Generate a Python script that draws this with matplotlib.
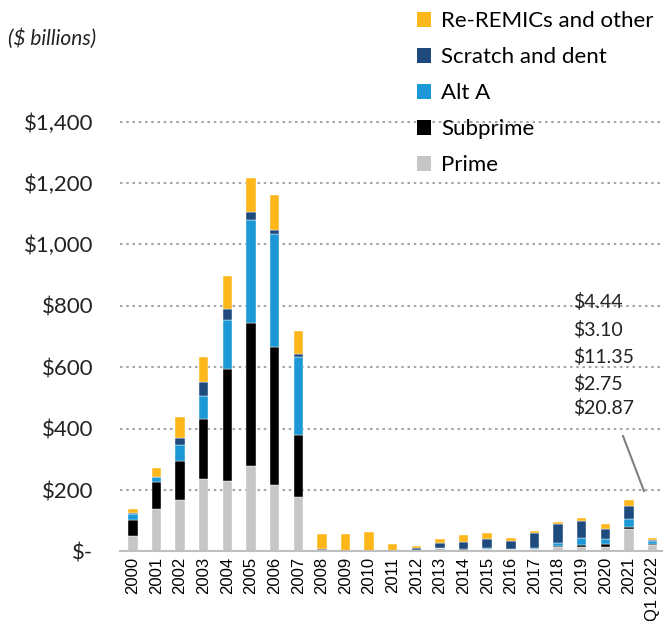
import matplotlib
matplotlib.use("Agg")
import matplotlib.pyplot as plt
from matplotlib.patches import Patch
import numpy as np

plt.rcParams['font.family'] = ['Lato', 'DejaVu Sans']

years = ["2000", "2001", "2002", "2003", "2004", "2005", "2006", "2007", "2008", "2009",
         "2010", "2011", "2012", "2013", "2014", "2015", "2016", "2017", "2018", "2019",
         "2020", "2021", "Q1 2022"]
prime = [51, 139, 169, 236, 231, 279, 216, 178, 2, 3, 1, 1, 2, 10, 6, 9, 7, 8, 15, 13, 14, 72, 20.87]
subprime = [53, 88, 124, 195, 363, 466, 451, 202, 1, 0, 0, 0, 1, 1, 0.5, 0.5, 0.5, 0.5, 4, 9, 10, 6, 2.75]
alt_a = [18, 15, 55, 75, 160, 336, 368, 252, 2, 0, 0, 0, 1, 1, 0.5, 2, 1, 3, 10, 23, 15, 28, 11.35]
scratch = [2, 2, 23, 47, 34, 25, 13, 10, 3, 0, 0, 0, 6, 15, 25, 28, 26, 48, 59, 53, 35, 42, 3.10]
other = [13, 29, 68, 80, 110, 110, 114, 76, 48, 55, 61, 23, 7, 13, 20, 22, 8, 7, 9, 12, 17, 18, 4.44]
yticks = [0, 200, 400, 600, 800, 1000, 1200, 1400]
ytick_labels = ["$-", "$200", "$400", "$600", "$800", "$1,000", "$1,200", "$1,400"]
series_names = ["Prime", "Subprime", "Alt A", "Scratch and dent", "Re-REMICs and other"]
colors = ["#C6C6C6", "#000000", "#1B98D5", "#1F4A7E", "#FDB71A"]
annot_values = ["$4.44", "$3.10", "$11.35", "$2.75", "$20.87"]

fig = plt.figure(figsize=(6.66, 6.21), dpi=100)
ax = fig.add_axes([0.180, 0.112, 0.814, 0.717])

x = np.arange(len(years))
bottom = np.zeros(len(years))
for vals, c in zip([prime, subprime, alt_a, scratch, other], colors):
    v = np.array(vals, dtype=float)
    ax.bar(x, v, bottom=bottom, width=0.4, color=c, edgecolor='white', linewidth=0.3)
    bottom += v

ax.set_xlim(-0.55, len(years) - 0.6)
ax.set_ylim(0, 1450)
ax.set_yticks(yticks)
ax.set_yticklabels(ytick_labels, fontsize=16)
ax.set_xticks(x)
ax.set_xticklabels(years, rotation=90, fontsize=12, fontfamily='Liberation Sans')
ax.tick_params(axis='both', length=0, colors='#222222')
ax.tick_params(axis='y', pad=19)
ax.tick_params(axis='x', pad=4)
for t in ax.get_xticklabels():
    t.set_color('#000000')

for s in ["top", "right", "left"]:
    ax.spines[s].set_visible(False)
ax.spines["bottom"].set_color("#BFBFBF")
ax.spines["bottom"].set_linewidth(1.5)
ax.yaxis.grid(True, linestyle=(0, (1.2, 1.8)), color="#A6A6A6", linewidth=1.5)
ax.set_axisbelow(True)

fig.text(0.012, 0.927, "($ billions)", fontsize=15, style='italic', color='#222222')

handles = [Patch(facecolor=c) for c in colors][::-1]
fig.legend(handles, series_names[::-1], loc='upper left', bbox_to_anchor=(0.606, 1.003),
           frameon=False, fontsize=16, handlelength=0.65, handleheight=0.65,
           handletextpad=0.45, labelspacing=0.72, borderaxespad=0.2)

# annotation for Q1 2022
ytxt = [302, 330, 357, 384, 408]
for lab, yp in zip(annot_values, ytxt):
    fig.text(573 / 666, 1 - yp / 621, lab, fontsize=14, va='center', ha='left', color='#222222')
fig.add_artist(plt.Line2D([623 / 666, 644 / 666], [1 - 436 / 621, 1 - 491 / 621],
                          color='#7F7F7F', linewidth=1.5))

fig.savefig("out.png", dpi=100)
